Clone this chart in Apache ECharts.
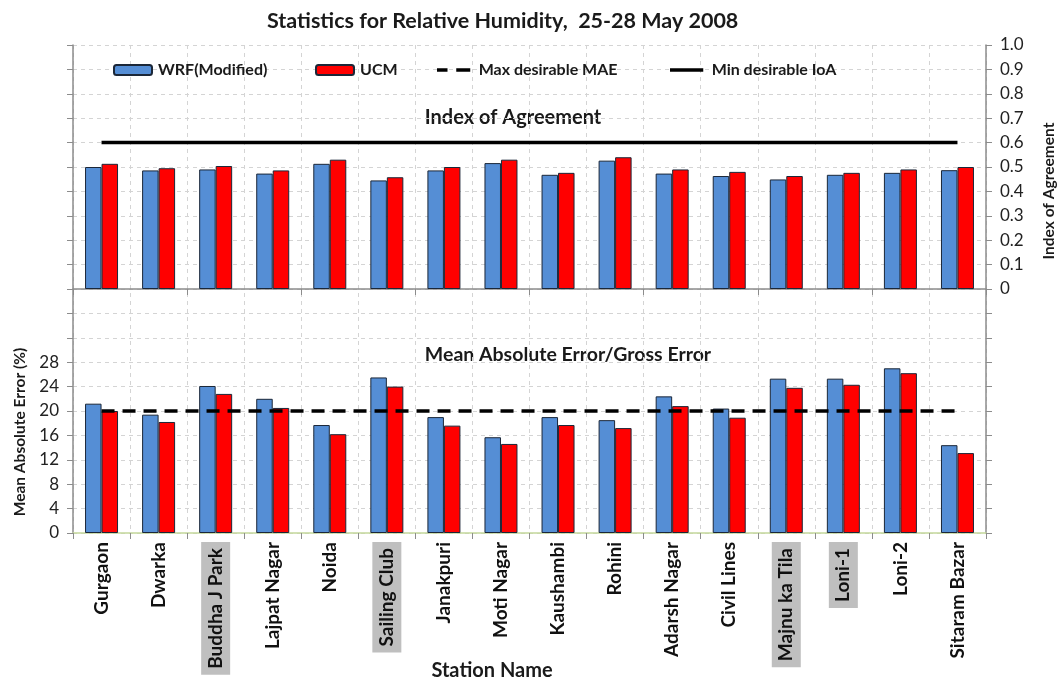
<!DOCTYPE html>
<html>
<head>
<meta charset="utf-8">
<script src="https://cdn.jsdelivr.net/npm/echarts@6/dist/echarts.min.js"></script>
<style>
  html, body { margin: 0; padding: 0; background: #fff; }
  #chart { width: 1064px; height: 682px; }
</style>
</head>
<body>
<div id="chart"></div>
<script>
// Stations along the horizontal axis
const stations = ['Gurgaon', 'Dwarka', 'Buddha J Park', 'Lajpat Nagar', 'Noida', 'Sailing Club',
  'Janakpuri', 'Moti Nagar', 'Kaushambi', 'Rohini', 'Adarsh Nagar', 'Civil Lines',
  'Majnu ka Tila', 'Loni-1', 'Loni-2', 'Sitaram Bazar'];
// Stations whose labels are drawn on a grey box
const highlighted = ['Buddha J Park', 'Sailing Club', 'Majnu ka Tila', 'Loni-1'];

// Index of Agreement (right axis)
const ioaWrf = [0.500, 0.486, 0.490, 0.473, 0.513, 0.445, 0.486, 0.516, 0.468, 0.526, 0.473, 0.463, 0.449, 0.468, 0.476, 0.487];
const ioaUcm = [0.513, 0.495, 0.504, 0.486, 0.530, 0.458, 0.500, 0.530, 0.476, 0.540, 0.490, 0.480, 0.463, 0.476, 0.490, 0.500];

// Mean Absolute Error, % (left axis)
const maeWrf = [21.2, 19.4, 24.1, 22.0, 17.7, 25.5, 19.0, 15.7, 19.0, 18.5, 22.4, 20.4, 25.3, 25.3, 27.0, 14.4];
const maeUcm = [20.0, 18.2, 22.8, 20.5, 16.2, 24.0, 17.6, 14.6, 17.7, 17.2, 20.8, 18.9, 23.8, 24.3, 26.2, 13.1];

// Target thresholds
const maeLimit = 20;
const ioaLimit = 0.6;

// Visible tick labels on each axis
const maeTickMax = 28;
const ioaTickMin = 0;

const FONT = 'Lato, "Open Sans", sans-serif';
const BLUE = '#558ed5';
const RED = '#ff0000';
const EDGE = '#1b2738';
const AXIS = '#8c8c8c';
const GRID = '#d4d4d4';
const INK = '#1a1a1a';

const chart = echarts.init(document.getElementById('chart'), null, { renderer: 'canvas' });

const categoryData = stations.map(s => highlighted.includes(s)
  ? { value: s, textStyle: { backgroundColor: '#bfbfbf', padding: [5, 6, 5, 6] } }
  : s);

const barCommon = { type: 'bar', barWidth: 16.5, barGap: '0%' };

const legendCommon = {
  top: 57,
  itemWidth: 38,
  itemHeight: 10,
  itemGap: 6,
  selectedMode: false,
  textStyle: { fontFamily: FONT, fontWeight: 'bold', fontSize: 16, color: INK, padding: [0, 0, 0, 1] }
};

// Legend glyphs for the threshold lines: a two-dash stroke and a solid stroke
const dashIcon = 'path://M0 0H12V4H0Z M22 0H38V4H22Z';
const solidIcon = 'path://M0 0H38V4H0Z';

const option = {
  backgroundColor: '#ffffff',
  animation: false,
  title: {
    text: 'Statistics for Relative Humidity,  25-28 May 2008',
    left: 262,
    top: 5,
    textStyle: { fontFamily: FONT, fontWeight: 'bold', fontSize: 21.5, color: INK }
  },
  legend: [
    Object.assign({ left: 108, data: ['WRF(Modified)'] }, legendCommon),
    Object.assign({ left: 310, data: ['UCM'] }, legendCommon),
    Object.assign({ left: 432, data: [{ name: 'Max desirable MAE', icon: dashIcon }] },
      legendCommon, { itemHeight: 3.5 }),
    Object.assign({ left: 665, data: [{ name: 'Min desirable IoA', icon: solidIcon }] },
      legendCommon, { itemHeight: 3.5 })
  ],
  grid: { left: 73, right: 78, top: 45, bottom: 149, containLabel: false },
  xAxis: [
    {
      type: 'category',
      data: categoryData,
      position: 'bottom',
      axisLine: { onZero: false, lineStyle: { color: '#c4d79b', width: 1.5 } },
      axisTick: { show: true, length: 6, lineStyle: { color: AXIS } },
      axisLabel: {
        rotate: 90, interval: 0, margin: 9,
        fontFamily: FONT, fontWeight: 'bold', fontSize: 19, color: '#111'
      },
      splitLine: { show: true, lineStyle: { color: GRID, type: [4, 4] } }
    },
    {
      type: 'category',
      data: stations,
      position: 'bottom',
      axisLine: { onZero: true, onZeroAxisIndex: 1, lineStyle: { color: AXIS, width: 1.5 } },
      axisTick: { show: true, length: 6, lineStyle: { color: AXIS } },
      axisLabel: { show: false },
      splitLine: { show: false }
    }
  ],
  yAxis: [
    {
      type: 'value',
      min: 0, max: 80, interval: 4,
      position: 'left',
      axisLine: { show: true, lineStyle: { color: AXIS, width: 1.5 } },
      axisTick: { show: true, length: 6, lineStyle: { color: AXIS } },
      axisLabel: {
        margin: 14,
        fontFamily: FONT, fontSize: 17, color: '#222',
        formatter: v => (v <= maeTickMax ? String(v) : '')
      },
      splitLine: { show: true, lineStyle: { color: GRID, type: [4, 4] } }
    },
    {
      type: 'value',
      min: -1, max: 1, interval: 0.1,
      position: 'right',
      axisLine: { show: true, lineStyle: { color: AXIS, width: 1.5 } },
      axisTick: { show: true, length: 6, lineStyle: { color: AXIS } },
      axisLabel: {
        margin: 14,
        fontFamily: FONT, fontSize: 17, color: '#222',
        formatter: v => {
          if (v < ioaTickMin - 1e-9) return '';
          if (Math.abs(v) < 1e-9) return '0';
          return v.toFixed(1);
        }
      },
      splitLine: { show: false }
    }
  ],
  graphic: [
    {
      type: 'text', x: 513, y: 118,
      style: {
        text: 'Index of Agreement', textAlign: 'center', textVerticalAlign: 'middle',
        font: 'bold 20px ' + FONT, fill: INK
      }
    },
    {
      type: 'text', x: 568, y: 355,
      style: {
        text: 'Mean Absolute Error/Gross Error', textAlign: 'center', textVerticalAlign: 'middle',
        font: 'bold 19.5px ' + FONT, fill: INK
      }
    },
    {
      type: 'text', x: 20, y: 432, rotation: Math.PI / 2,
      style: {
        text: 'Mean Absolute Error (%)', textAlign: 'center', textVerticalAlign: 'middle',
        font: 'bold 15.5px ' + FONT, fill: INK
      }
    },
    {
      type: 'text', x: 1049, y: 191, rotation: Math.PI / 2,
      style: {
        text: 'Index of Agreement', textAlign: 'center', textVerticalAlign: 'middle',
        font: 'bold 15.5px ' + FONT, fill: INK
      }
    },
    {
      type: 'text', x: 492, y: 671,
      style: {
        text: 'Station Name', textAlign: 'center', textVerticalAlign: 'middle',
        font: 'bold 20px ' + FONT, fill: INK
      }
    }
  ],
  series: [
    Object.assign({ name: 'WRF(Modified)', xAxisIndex: 1, yAxisIndex: 1, data: ioaWrf,
      itemStyle: { color: BLUE, borderColor: EDGE, borderWidth: 1 } }, barCommon),
    Object.assign({ name: 'UCM', xAxisIndex: 1, yAxisIndex: 1, data: ioaUcm,
      itemStyle: { color: RED, borderColor: EDGE, borderWidth: 1 } }, barCommon),
    Object.assign({ name: 'WRF(Modified)', xAxisIndex: 0, yAxisIndex: 0, data: maeWrf,
      itemStyle: { color: BLUE, borderColor: EDGE, borderWidth: 1 } }, barCommon),
    Object.assign({ name: 'UCM', xAxisIndex: 0, yAxisIndex: 0, data: maeUcm,
      itemStyle: { color: RED, borderColor: EDGE, borderWidth: 1 } }, barCommon),
    {
      name: 'Max desirable MAE', type: 'line', xAxisIndex: 0, yAxisIndex: 0,
      data: stations.map(() => maeLimit),
      symbol: 'none', silent: true, z: 5,
      lineStyle: { color: '#000', width: 3.5, type: [13, 8] },
      itemStyle: { color: '#000', borderWidth: 0 }
    },
    {
      name: 'Min desirable IoA', type: 'line', xAxisIndex: 1, yAxisIndex: 1,
      data: stations.map(() => ioaLimit),
      symbol: 'none', silent: true, z: 5,
      lineStyle: { color: '#000', width: 3.5 },
      itemStyle: { color: '#000', borderWidth: 0 }
    }
  ]
};

chart.setOption(option);
</script>
</body>
</html>
